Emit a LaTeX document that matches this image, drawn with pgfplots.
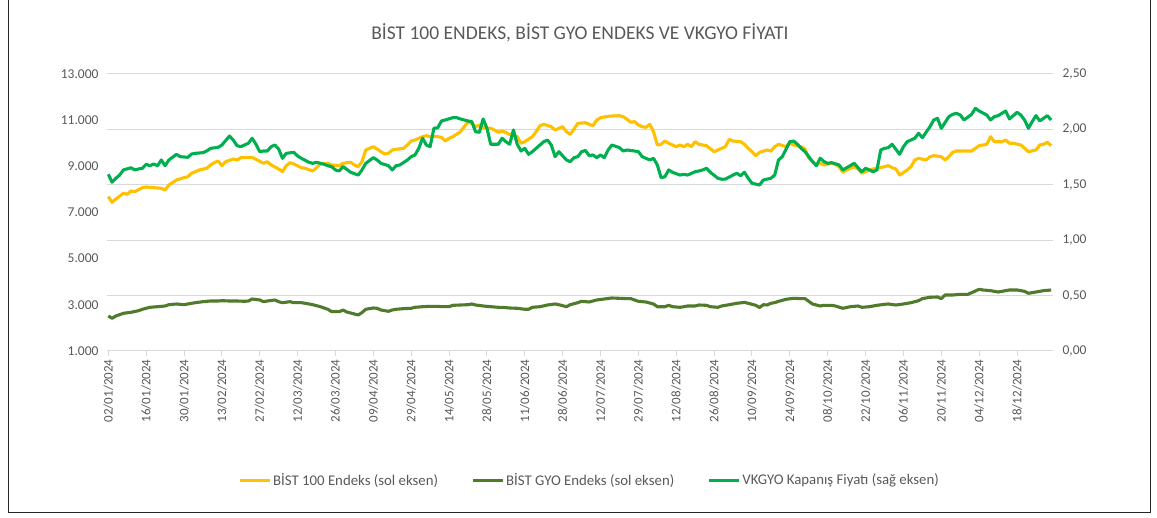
\documentclass[border=0pt]{standalone}
\usepackage{pgfplots}
\pgfplotsset{compat=1.18}
\usepackage{pgfplotstable}
\usepackage{fontspec}
\setmainfont{Carlito}
\definecolor{cYellow}{HTML}{FFC000}
\definecolor{cDark}{HTML}{4F7B2B}
\definecolor{cGreen}{HTML}{00B050}
\definecolor{cGrid}{HTML}{D9D9D9}
\definecolor{cText}{HTML}{595959}

\pgfplotstableread{
i v
0 7685
1 7442
2 7585
4 7832
5 7789
6 7932
7 7901
9 8075
10 8105
12 8075
14 8049
15 7975
16 8191
18 8408
20 8508
21 8551
22 8698
24 8841
26 8915
27 9058
28 9158
29 9231
30 9028
31 9201
33 9318
34 9274
35 9374
37 9391
38 9391
39 9305
41 9132
42 9201
43 9058
45 8885
46 8768
47 9028
48 9158
49 9101
51 8941
52 8915
54 8798
55 8941
56 9101
58 9132
59 9058
61 9028
62 9132
64 9175
65 9058
66 8984
67 9201
68 9708
70 9851
71 9751
72 9634
73 9534
74 9565
75 9708
76 9738
78 9781
79 9924
80 10098
81 10141
83 10284
84 10327
85 10284
87 10284
88 10258
89 10098
90 10214
91 10284
93 10500
94 10717
95 10908
96 10864
97 10717
98 10791
99 10674
101 10648
102 10574
103 10474
104 10531
106 10388
107 10357
108 10284
109 9998
110 10067
112 10284
113 10500
114 10760
115 10821
117 10717
118 10574
119 10648
120 10717
121 10500
122 10388
123 10617
124 10864
126 10890
127 10821
128 10760
129 11007
130 11107
132 11168
133 11180
135 11194
136 11150
137 11038
138 10908
139 10937
140 10791
141 10717
142 10690
143 10821
144 10500
145 9924
146 9954
147 10098
148 9998
150 9851
151 9924
152 9851
153 9954
154 9851
155 10067
156 9954
157 9924
158 9894
160 9634
161 9708
162 9781
163 9851
164 10171
165 10098
167 10067
168 9954
169 9781
170 9634
171 9461
172 9608
174 9708
175 9664
176 9851
177 9954
179 9851
180 10002
181 9924
183 9851
184 9751
185 9348
187 9058
188 9132
189 9058
191 9132
192 9088
193 8984
194 8742
195 8841
197 8984
198 8885
199 8698
201 8841
202 8885
203 8915
205 8984
206 9028
207 8941
208 8885
209 8625
211 8841
212 8984
213 9274
214 9348
216 9274
217 9417
218 9461
220 9417
221 9274
222 9417
223 9608
224 9664
226 9664
228 9664
229 9781
230 9894
232 9954
233 10284
234 10067
236 10067
237 10141
238 9998
239 9998
241 9924
242 9781
243 9634
245 9708
246 9924
247 9954
248 10041
249 9894
}\bist

\pgfplotstableread{
i v
0 2517
1 2417
2 2517
4 2633
6 2677
8 2746
9 2807
11 2893
13 2919
15 2950
16 3006
18 3036
20 3006
22 3067
23 3093
25 3136
27 3166
29 3166
30 3180
32 3166
34 3166
36 3153
37 3166
38 3253
40 3210
41 3136
42 3166
44 3210
45 3136
46 3093
48 3136
49 3093
51 3093
52 3067
54 3006
56 2919
58 2807
59 2703
61 2703
62 2776
63 2690
65 2603
66 2560
67 2663
68 2807
70 2863
71 2850
72 2776
74 2720
75 2776
76 2807
78 2835
80 2850
81 2893
83 2919
85 2935
87 2935
88 2920
90 2920
91 2979
93 2993
95 3006
96 3036
97 2993
99 2950
101 2919
103 2893
104 2893
106 2863
108 2850
110 2807
111 2807
112 2893
114 2919
116 2993
118 3036
119 3006
121 2919
122 3006
124 3093
125 3153
127 3123
129 3210
131 3253
133 3296
135 3282
137 3268
138 3268
139 3210
140 3153
142 3123
144 3036
145 2919
147 2919
148 2979
149 2919
151 2893
152 2919
153 2950
155 2950
156 2993
158 2979
159 2919
161 2893
162 2950
164 3006
166 3067
168 3106
169 3067
171 2979
172 2885
173 3006
174 2993
175 3067
176 3095
177 3150
179 3240
181 3283
183 3268
184 3268
186 3036
188 2950
189 2979
191 2979
192 2950
194 2850
196 2919
198 2950
199 2893
201 2919
203 2979
205 3021
206 3036
208 2993
210 3036
212 3093
214 3180
215 3268
217 3327
219 3340
220 3268
221 3426
223 3426
225 3455
227 3455
228 3526
230 3673
231 3643
233 3614
235 3556
236 3585
238 3643
240 3643
242 3585
243 3499
245 3556
247 3614
249 3643
}\gyo

\pgfplotstableread{
i v
0 1.595
1 1.523
2 1.559
3 1.588
4 1.634
6 1.654
7 1.634
8 1.643
9 1.649
10 1.685
11 1.672
12 1.688
13 1.672
14 1.724
15 1.672
16 1.724
18 1.775
19 1.754
21 1.748
22 1.778
23 1.784
25 1.790
26 1.805
27 1.829
29 1.838
30 1.859
32 1.940
33 1.904
34 1.853
35 1.844
37 1.875
38 1.920
39 1.866
40 1.799
41 1.805
42 1.805
43 1.844
44 1.859
45 1.823
46 1.739
47 1.784
49 1.793
50 1.760
51 1.739
53 1.703
54 1.694
55 1.703
57 1.685
58 1.672
59 1.663
60 1.634
61 1.625
62 1.665
64 1.613
66 1.588
67 1.634
68 1.694
70 1.745
71 1.724
72 1.694
74 1.672
75 1.634
76 1.672
77 1.679
79 1.724
80 1.754
81 1.769
82 1.829
83 1.920
84 1.859
85 1.844
86 2.010
87 2.015
88 2.076
89 2.085
91 2.106
92 2.106
93 2.094
95 2.076
96 2.070
97 1.979
98 1.974
99 2.094
100 2.010
101 1.866
103 1.866
104 1.920
105 1.889
106 1.866
107 1.995
108 1.866
109 1.805
110 1.829
111 1.775
112 1.799
113 1.829
115 1.889
116 1.904
117 1.859
118 1.754
119 1.799
121 1.724
122 1.709
123 1.745
124 1.754
125 1.799
126 1.810
127 1.763
128 1.769
129 1.745
130 1.769
131 1.745
132 1.814
133 1.859
135 1.835
136 1.805
137 1.814
139 1.805
140 1.799
141 1.754
143 1.724
144 1.739
145 1.679
146 1.564
147 1.573
148 1.634
149 1.613
151 1.588
152 1.595
153 1.588
155 1.618
156 1.625
157 1.634
158 1.649
159 1.613
161 1.559
162 1.550
163 1.552
165 1.588
166 1.604
167 1.582
168 1.613
169 1.559
170 1.514
172 1.498
173 1.543
175 1.559
176 1.588
177 1.724
178 1.754
180 1.889
181 1.895
182 1.866
183 1.829
184 1.799
186 1.709
187 1.672
188 1.740
189 1.710
190 1.694
191 1.700
193 1.679
194 1.634
195 1.654
197 1.694
198 1.654
199 1.618
200 1.649
201 1.634
202 1.618
203 1.634
204 1.814
205 1.829
206 1.835
207 1.866
209 1.775
210 1.844
211 1.889
213 1.920
214 1.965
215 1.925
217 2.024
218 2.085
219 2.100
220 2.010
222 2.115
223 2.136
224 2.145
225 2.130
226 2.085
228 2.136
229 2.190
230 2.166
232 2.130
233 2.085
234 2.115
235 2.124
236 2.145
237 2.166
238 2.094
240 2.154
241 2.130
242 2.085
243 2.010
244 2.070
245 2.124
246 2.076
247 2.100
248 2.124
249 2.085
}\vkgyo

\begin{document}
\begin{tikzpicture}
\useasboundingbox (0pt,0pt) rectangle (1157pt,517pt);
\draw[black!85, line width=0.8pt] (8pt,517pt) -- (8pt,5pt) -- (1150pt,5pt) -- (1150pt,517pt);
\node[text=cText, font=\fontsize{19.5}{19.5}\selectfont] at (580pt,484pt) {BİST 100 ENDEKS, BİST GYO ENDEKS VE VKGYO FİYATI};

\begin{axis}[
  at={(107pt,166pt)}, anchor=south west,
  scale only axis, width=946pt, height=277pt,
  xmin=-0.34, xmax=249.5, ymin=1000, ymax=13000,
  scaled y ticks=false,
  axis x line*=bottom, axis y line*=left,
  x axis line style={cGrid, line width=1pt, -},
  y axis line style={draw=none},
  xtick={0,10,...,240},
  xticklabels={02/01/2024,16/01/2024,30/01/2024,13/02/2024,27/02/2024,12/03/2024,26/03/2024,09/04/2024,29/04/2024,14/05/2024,28/05/2024,11/06/2024,28/06/2024,12/07/2024,29/07/2024,12/08/2024,26/08/2024,10/09/2024,24/09/2024,08/10/2024,22/10/2024,06/11/2024,20/11/2024,04/12/2024,18/12/2024},
  xticklabel style={rotate=90, anchor=east, font=\fontsize{13}{13}\selectfont, text=cText},
  xtick style={cGrid, line width=1pt},
  major tick length=5pt,
  tick align=outside,
  ytick={1000,3000,5000,7000,9000,11000,13000},
  yticklabels={1.000,3.000,5.000,7.000,9.000,11.000,13.000},
  yticklabel style={font=\fontsize{13.5}{13.5}\selectfont, text=cText},
  ytick style={draw=none},
  extra y ticks={3400,5800,8200,10600,13000},
  extra y tick labels={},
  extra y tick style={grid=major, major grid style={cGrid, line width=1pt}, tick style={draw=none}},
]
\addplot[cYellow, line width=3.1pt, line join=round, no markers] table[x=i,y=v]{\bist};
\addplot[cDark, line width=3.1pt, line join=round, no markers] table[x=i,y=v]{\gyo};
\end{axis}

\begin{axis}[
  at={(107pt,166pt)}, anchor=south west,
  scale only axis, width=946pt, height=277pt,
  xmin=-0.34, xmax=249.5, ymin=0, ymax=2.5,
  axis x line=none, axis y line*=right,
  y axis line style={draw=none},
  ytick={0,0.5,1,1.5,2,2.5},
  yticklabels={{0,00},{0,50},{1,00},{1,50},{2,00},{2,50}},
  ytick style={draw=none},
  yticklabel style={font=\fontsize{13.5}{13.5}\selectfont, text=cText, xshift=6pt},
  legend columns=3,
  legend style={at={(0.51,-0.466)}, anchor=center, draw=none, fill=none,
    font=\fontsize{14.8}{14.8}\selectfont, text=cText,
    /tikz/every even column/.append style={column sep=31pt},
    nodes={inner sep=2pt}},
  legend image code/.code={\draw[#1] (0pt,0pt) -- (30pt,0pt);},
]
\addlegendimage{cYellow, line width=3.1pt}
\addlegendentry{BİST 100 Endeks (sol eksen)}
\addlegendimage{cDark, line width=3.1pt}
\addlegendentry{BİST GYO Endeks (sol eksen)}
\addplot[cGreen, line width=3.1pt, line join=round, no markers] table[x=i,y=v]{\vkgyo};
\addlegendentry{VKGYO Kapanış Fiyatı (sağ eksen)}
\end{axis}
\end{tikzpicture}
\end{document}
